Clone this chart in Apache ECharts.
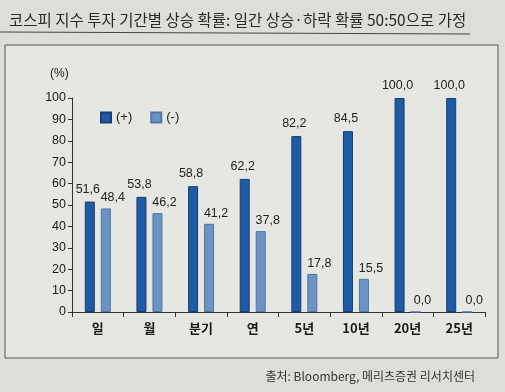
<!DOCTYPE html>
<html>
<head>
<meta charset="utf-8">
<script src="https://cdn.jsdelivr.net/npm/echarts@6/dist/echarts.min.js"></script>
<style>
  html, body { margin: 0; padding: 0; background: #deded9; }
  #chart { width: 505px; height: 392px; }
</style>
</head>
<body>
<div id="chart"></div>
<script>
// 기간별 카테고리와 상승/하락 확률
var categories = ['일', '월', '분기', '연', '5년', '10년', '20년', '25년'];
var upValues = [51.6, 53.8, 58.8, 62.2, 82.2, 84.5, 100.0, 100.0];
var downValues = [48.4, 46.2, 41.2, 37.8, 17.8, 15.5, 0.0, 0.0];
var yTicks = [0, 10, 20, 30, 40, 50, 60, 70, 80, 90, 100];

var font = '"Noto Sans CJK KR", "Noto Sans", sans-serif';
var numFont = '"Liberation Sans", Arial, sans-serif';

// 소수점을 쉼표로 표시
function commaLabel(p) {
  return p.value.toFixed(1).replace('.', ',');
}

var myChart = echarts.init(document.getElementById('chart'));
var option = {
  backgroundColor: '#deded9',
  textStyle: { fontFamily: font },
  title: {
    text: '코스피 지수 투자 기간별 상승 확률: 일간 상승·하락 확률 50:50으로 가정',
    left: 4,
    top: 7,
    textStyle: { fontSize: 15.5, fontWeight: 'normal', color: '#2a2a2a', fontFamily: font }
  },
  graphic: [
    { type: 'line', shape: { x1: 0, y1: 32, x2: 470, y2: 34 }, style: { stroke: '#444', lineWidth: 1 } },
    { type: 'rect', shape: { x: 5, y: 45, width: 493, height: 313 }, style: { fill: '#e6e6e2', stroke: '#555', lineWidth: 1 } },
    { type: 'text', left: 50, top: 68, style: { text: '(%)', fontSize: 12, fill: '#222', fontFamily: numFont } },
    { type: 'text', right: 30, top: 370, style: { text: '출처: Bloomberg, 메리츠증권 리서치센터', fontSize: 12, fill: '#333', fontFamily: font } }
  ],
  legend: {
    left: 95,
    top: 106,
    itemWidth: 10,
    itemHeight: 10,
    itemGap: 18,
    icon: 'rect',
    textStyle: { fontSize: 13, color: '#222', fontFamily: numFont },
    data: ['(+)', '(-)']
  },
  grid: { left: 72, right: 20, top: 98, bottom: 80 },
  xAxis: {
    type: 'category',
    data: categories,
    axisLine: { lineStyle: { color: '#333' } },
    axisTick: { show: true, alignWithLabel: false, length: 5, lineStyle: { color: '#333' } },
    axisLabel: { fontSize: 13, fontWeight: 'bold', color: '#1a1a1a', margin: 10 }
  },
  yAxis: {
    type: 'value',
    min: yTicks[0],
    max: yTicks[yTicks.length - 1],
    interval: 10,
    axisLine: { show: true, lineStyle: { color: '#333' } },
    axisTick: { show: true, length: 4, lineStyle: { color: '#333' } },
    axisLabel: { fontSize: 12.5, color: '#1a1a1a', margin: 6, fontFamily: numFont },
    splitLine: { show: false }
  },
  series: [
    {
      name: '(+)',
      type: 'bar',
      data: upValues,
      barWidth: 10,
      barGap: '60%',
      itemStyle: { color: '#1f5ba3', borderColor: '#143f78', borderWidth: 1 },
      label: { show: true, position: 'top', distance: 6, fontSize: 12.5, color: '#222', fontFamily: numFont, formatter: commaLabel, offset: [-2, 0] }
    },
    {
      name: '(-)',
      type: 'bar',
      data: downValues,
      barWidth: 10,
      itemStyle: { color: '#6c93c2', borderColor: '#4f77a6', borderWidth: 1 },
      label: { show: true, position: 'top', distance: 4, fontSize: 12.5, color: '#222', fontFamily: numFont, formatter: commaLabel, offset: [7, 0] }
    }
  ]
};
myChart.setOption(option);
</script>
</body>
</html>
